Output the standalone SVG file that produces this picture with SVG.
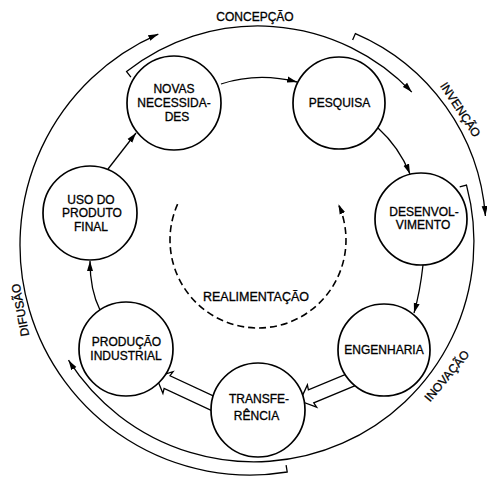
<svg xmlns="http://www.w3.org/2000/svg" width="487" height="477" viewBox="0 0 487 477">
<defs>
<style>
.node circle{fill:#fff;stroke:#000;stroke-width:1.7}
.nt{font-family:"Liberation Sans",Arial,sans-serif;font-size:12px;fill:#000;stroke:#000;stroke-width:0.3;text-anchor:middle}
.lbl{font-family:"Liberation Sans",Arial,sans-serif;font-size:12px;fill:#000;stroke:#000;stroke-width:0.3;text-anchor:middle}
.arc{fill:none;stroke:#000;stroke-width:1.3;marker-end:url(#ah)}
.conn{fill:none;stroke:#000;stroke-width:1.3;marker-end:url(#ah)}
.hollow{fill:#fff;stroke:#000;stroke-width:1.3;stroke-linejoin:miter}
.fb{fill:none;stroke:#000;stroke-width:1.6;stroke-dasharray:7 4;marker-end:url(#ah)}
</style>
<marker id="ah" markerUnits="userSpaceOnUse" markerWidth="11" markerHeight="7" refX="10" refY="3.5" orient="auto"><path d="M0,0.5 L10,3.5 L0,6.5 z" fill="#000"/></marker>
</defs>
<rect width="487" height="477" fill="#fff"/>
<g id="connectors">
<path class="arc" d="M 130.9 77.1 L 126.6 71.6 A 212 212 0 0 1 411.8 92.1"/>
<path class="arc" d="M 352.6 40 L 355.4 33.6 A 216 216 0 0 1 485.4 216"/>
<path class="arc" d="M 459.7 186.9 L 466.5 185.1 A 220 220 0 0 1 68.5 360.2"/>
<path class="arc" d="M 286.1 465.1 L 287.2 472 A 230 230 0 0 1 158.3 34.1"/>
<path class="fb" d="M 177.6 204.2 A 88 88 0 1 0 338.4 204.2"/>
<path class="conn" d="M 221 84 Q 258 72 297 82"/>
<path class="conn" d="M 378 128 Q 399 147 410 174"/>
<path class="conn" d="M 423 265 Q 420 292 414 313"/>
<path class="conn" d="M 100 310 Q 90 290 90 261"/>
<path class="conn" d="M 108 169 L 136 133"/>
<path class="hollow" transform="translate(300 401) rotate(157.4)" d="M -100 -7 L -12 -7 L -13 -12 L 0 0 L -13 12 L -12 7 L -100 7 Z"/>
<path class="hollow" transform="translate(156.2 377) rotate(205)" d="M -100 -7 L -12 -7 L -13 -12 L 0 0 L -13 12 L -12 7 L -100 7 Z"/>
</g>
<g id="novas" class="node"><circle cx="174" cy="103" r="47"/><text class="nt" x="174" y="93">NOVAS</text><text class="nt" x="174" y="107">NECESSIDA-</text><text class="nt" x="177" y="121">DES</text></g>
<g id="pesquisa" class="node"><circle cx="339" cy="103" r="46"/><text class="nt" x="339.5" y="107">PESQUISA</text></g>
<g id="desenvolvimento" class="node"><circle cx="421" cy="219" r="46"/><text class="nt" x="424" y="215.5">DESENVOL-</text><text class="nt" x="423" y="229">VIMENTO</text></g>
<g id="engenharia" class="node"><circle cx="384" cy="350" r="46"/><text class="nt" x="384" y="354">ENGENHARIA</text></g>
<g id="transferencia" class="node"><circle cx="258" cy="410" r="47"/><text class="nt" x="259" y="403">TRANSFE-</text><text class="nt" x="256.5" y="420">RÊNCIA</text></g>
<g id="producao" class="node"><circle cx="126" cy="349" r="47"/><text class="nt" x="126.5" y="346">PRODUÇÃO</text><text class="nt" x="126" y="359.5">INDUSTRIAL</text></g>
<g id="uso" class="node"><circle cx="90" cy="213" r="47"/><text class="nt" x="91" y="203.5">USO DO</text><text class="nt" x="92" y="217">PRODUTO</text><text class="nt" x="91" y="230.5">FINAL</text></g>
<g id="labels">
<text class="lbl" x="255" y="21">CONCEPÇÃO</text>
<text class="lbl" transform="translate(457 112) rotate(56.6)">INVENÇÃO</text>
<text class="lbl" transform="translate(450.1 378.6) rotate(-50.2)">INOVAÇÃO</text>
<text class="lbl" transform="translate(24.4 309.3) rotate(-100.5)">DIFUSÃO</text>
<text class="lbl" x="256" y="301" style="font-size:12.5px">REALIMENTAÇÃO</text>
</g>
</svg>
